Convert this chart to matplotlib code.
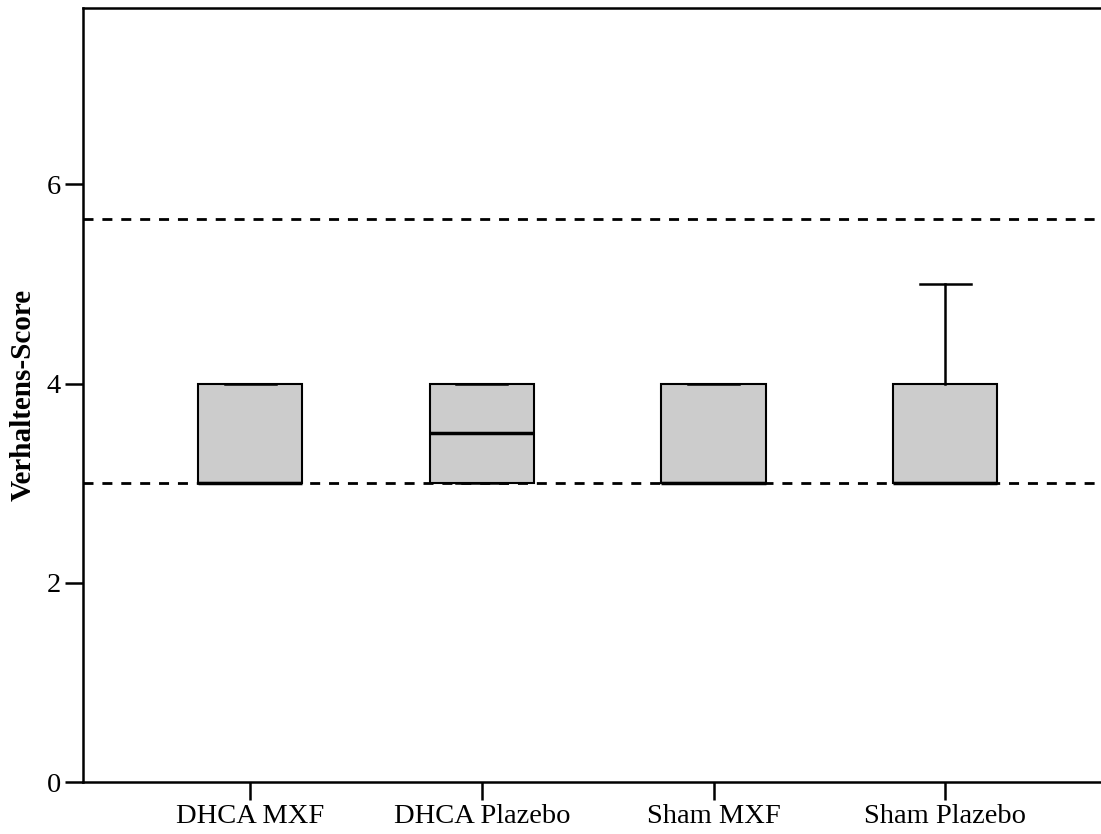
import matplotlib
matplotlib.use("Agg")
import matplotlib.pyplot as plt

categories = ["DHCA MXF", "DHCA Plazebo", "Sham MXF", "Sham Plazebo"]
q1 = [3, 3, 3, 3]
medians = [3, 3.5, 3, 3]
q3 = [4, 4, 4, 4]
whis_lo = [3, 3, 3, 3]
whis_hi = [4, 4, 4, 5]
ref_lines = [5.65, 3.0]
yticks = [0, 2, 4, 6]

plt.rcParams['font.family'] = ['Liberation Serif', 'DejaVu Serif']

fig = plt.figure(figsize=(11.01, 8.34), dpi=100)
ax = fig.add_axes([83/1101, 52/834, 1 - 83/1101 + 0.01, 774/834])

stats = []
for i, c in enumerate(categories):
    stats.append(dict(label=c, q1=q1[i], med=medians[i], q3=q3[i],
                      whislo=whis_lo[i], whishi=whis_hi[i], fliers=[]))

ax.bxp(stats, positions=[1, 2, 3, 4], widths=0.45, patch_artist=True,
       showfliers=False,
       boxprops=dict(facecolor="#cccccc", edgecolor="black", linewidth=1.5),
       medianprops=dict(color="black", linewidth=2.5),
       whiskerprops=dict(color="black", linewidth=1.8),
       capprops=dict(color="black", linewidth=1.8),
       capwidths=0.22, zorder=3)

for y in ref_lines:
    ax.axhline(y, color="black", linestyle=(0, (3.6, 3.2)), linewidth=2.0, zorder=4)

ax.set_xlim(0.278, 4.72)
ax.set_ylim(0, 7.77)
ax.set_yticks(yticks)
ax.set_xticks([1, 2, 3, 4])
ax.set_xticklabels(categories)
for s in ax.spines.values():
    s.set_linewidth(1.8)
ax.tick_params(axis='both', direction='out', length=13, width=1.8, labelsize=20.5, pad=3)
ax.set_ylabel("Verhaltens-Score", fontsize=21, fontweight='bold')
ax.yaxis.set_label_coords(-0.045, 0.5)

fig.savefig("out.png", dpi=100)
